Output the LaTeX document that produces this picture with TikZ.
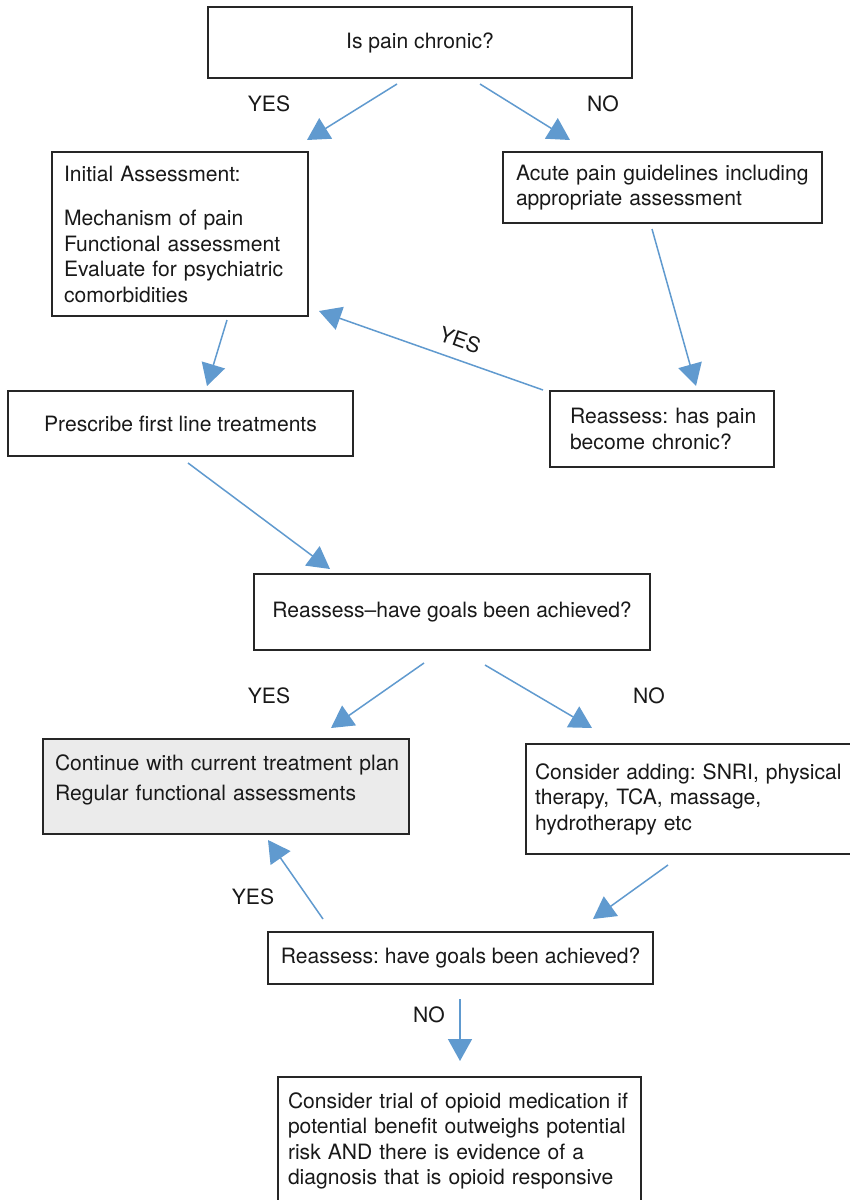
\documentclass[tikz,border=0pt]{standalone}
\usepackage{fontspec}
\setmainfont{TeX Gyre Heros}
\usetikzlibrary{arrows.meta,calc}
\definecolor{arrblue}{RGB}{96,154,207}
\definecolor{boxgray}{RGB}{235,235,235}
\definecolor{txt}{RGB}{25,25,25}
\frenchspacing
\tikzset{
  box/.style={draw=black!85, line width=1.3pt, inner ysep=0pt, outer sep=0pt,
    text=txt, font=\fontsize{21.1}{25.5}\selectfont},
  lbl/.style={text=txt, font=\fontsize{21.1}{25.5}\selectfont, inner sep=0pt},
  arr/.style={draw=arrblue, line width=1.5pt, -{Triangle[length=22pt,width=24pt]}, arrblue}
}
\begin{document}
\begin{tikzpicture}[x=1pt,y=-1pt]
\useasboundingbox (0,0) rectangle (850,1200);
\fill[white] (0,0) rectangle (850,1200);

% boxes
\node[box, minimum width=424, minimum height=71, align=center] (q) at (420,42.5) {Is pain chronic?};
\node[box, minimum width=256, minimum height=164, text width=232, inner xsep=12, align=left] (init) at (180,234)
  {\mbox{Initial Assessment:}\\[19pt]\mbox{Mechanism of pain}\\\mbox{Functional assessment}\\\mbox{Evaluate for psychiatric}\\\mbox{comorbidities}};
\node[box, minimum width=319, minimum height=71, text width=293, inner xsep=13, align=left] (acute) at (662.5,187.5)
  {\mbox{Acute pain guidelines including}\\\mbox{appropriate assessment}};
\node[box, minimum width=345, minimum height=65, align=center] (presc) at (180.5,423.5) {Prescribe first line treatments};
\node[box, minimum width=224, minimum height=76, text width=184, inner xsep=20, align=left] (rechr) at (662,429)
  {\mbox{Reassess: has pain}\\\mbox{become chronic?}};
\node[box, minimum width=396, minimum height=76, align=center] (goals) at (452,612) {Reassess\raisebox{0.5pt}{–}have goals been achieved?};
\node[box, fill=boxgray, minimum width=366, minimum height=95, text width=342, inner xsep=12, align=left] (cont) at (226,786.5)
  {\mbox{Continue with current treatment plan}\\[4.5pt]\mbox{Regular functional assessments}\\[-8.5pt]\mbox{}};
\node[box, minimum width=354, minimum height=110, text width=336, inner xsep=9, align=left] (cons) at (703,799)
  {\mbox{Consider adding: SNRI, physical}\\\mbox{therapy, TCA, massage,}\\\mbox{hydrotherapy etc}};
\node[box, minimum width=385, minimum height=52, align=center] (rg) at (460.5,958) {Reassess: have goals been achieved?};
\node[box, minimum width=363, minimum height=128, text width=343, inner xsep=10, align=left] (op) at (459.5,1141)
  {\mbox{Consider trial of opioid medication if}\\\mbox{potential benefit outweighs potential}\\\mbox{risk AND there is evidence of a}\\\mbox{diagnosis that is opioid responsive}};

% connectors
\draw[arr] ($(q.south)+(-23,6)$) -- ($(init.north)+(127,-12)$);
\draw[arr] ($(q.south)+(60,6)$) -- ($(acute.north)+(-92.5,-12)$);
\draw[arr] ($(init.south)+(47,4)$) -- ($(presc.north)+(26.5,-5)$);
\draw[arr] ($(acute.south)+(-10.5,6)$) -- ($(rechr.north)+(34,-5)$);
\draw[arr] ($(rechr.north west)+(-7,-1)$) -- ($(init.south east)+(11,-5)$);
\draw[arr] ($(presc.south)+(7.5,7)$) -- ($(goals.north)+(-122,-5)$);
\draw[arr] ($(goals.south)+(-28,13)$) -- ($(cont.north)+(105,-11)$);
\draw[arr] ($(goals.south)+(33,15)$) -- ($(cons.north)+(-111,-16)$);
\draw[arr] ($(cons.south)+(-35,11)$) -- ($(rg.north)+(132.5,-13)$);
\draw[arr] ($(rg.north)+(-137.5,-13)$) -- ($(cont.south)+(42,6)$);
\draw[arr] ($(rg.south)+(-0.5,15)$) -- ($(op.north)+(0.5,-16)$);

% labels
\node[lbl] (l1) at (269,104) {YES};
\node[lbl] (l2) at (603,104) {NO};
\node[lbl, rotate=-19.5] (l3) at (460,340) {YES};
\node[lbl] (l4) at (269,696) {YES};
\node[lbl] (l5) at (649,696) {NO};
\node[lbl] (l6) at (253,897) {YES};
\node[lbl] (l7) at (429,1015) {NO};
\end{tikzpicture}
\end{document}
